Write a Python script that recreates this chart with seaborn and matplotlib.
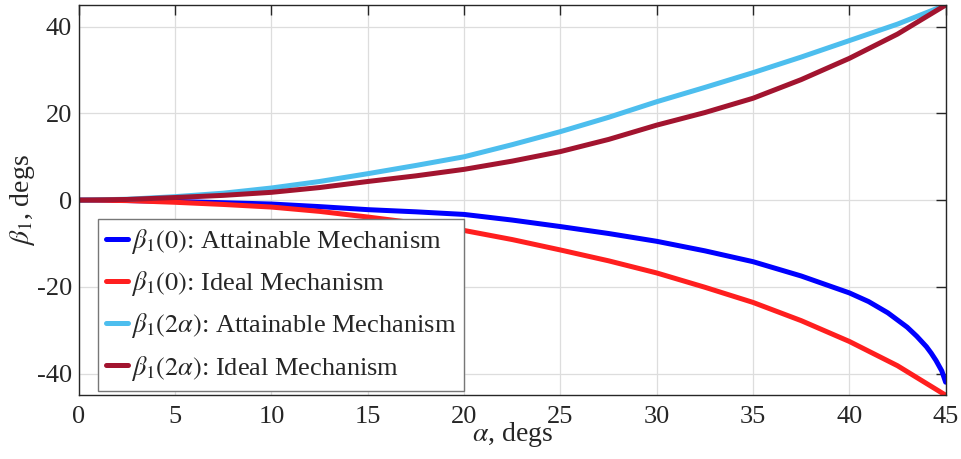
import numpy as np
import pandas as pd
import matplotlib
matplotlib.use("Agg")
import matplotlib.pyplot as plt
import seaborn as sns

# values (alpha in degs, beta_1 in degs)
alpha = [0, 2.5, 5, 7.5, 10, 12.5, 15, 17.5, 20, 22.5, 25, 27.5, 30, 32.5, 35, 37.5, 40, 42.5, 45]
ideal_0 = [0, -0.1, -0.5, -1.0, -1.6, -2.6, -3.9, -5.3, -7.0, -9.1, -11.5, -14.0, -16.8, -20.1, -23.6, -27.8, -32.6, -38.2, -45]
attain_2a = [0, 0.2, 0.8, 1.6, 2.8, 4.3, 6.1, 8.0, 10.0, 12.8, 15.8, 19.1, 22.7, 26.0, 29.4, 33.0, 36.8, 40.6, 45]
ideal_2a = [0, 0.15, 0.6, 1.1, 1.8, 2.9, 4.3, 5.6, 7.1, 9.0, 11.2, 14.0, 17.3, 20.2, 23.5, 27.8, 32.7, 38.3, 45]

# the attainable beta_1(0) curve bends sharply near 45, so it has more points there
alpha_b = [0, 2.5, 5, 7.5, 10, 12.5, 15, 17.5, 20, 22.5, 25, 27.5, 30, 32.5, 35, 37.5, 40, 41, 42, 43,
           43.5, 44, 44.25, 44.5, 44.8, 45]
attain_0 = [0, -0.1, -0.3, -0.6, -0.9, -1.5, -2.2, -2.7, -3.3, -4.6, -6.1, -7.7, -9.5, -11.7, -14.2, -17.5,
            -21.4, -23.4, -26.0, -29.3, -31.4, -33.8, -35.3, -37.0, -39.4, -42.0]

labels = [r"$\beta_1(0)$: Attainable Mechanism",
          r"$\beta_1(0)$: Ideal Mechanism",
          r"$\beta_1(2\alpha)$: Attainable Mechanism",
          r"$\beta_1(2\alpha)$: Ideal Mechanism"]
colors = ["#0000ff", "#ff1f1f", "#4dbeee", "#a2142f"]

sns.set_style("whitegrid")
plt.rcParams["font.family"] = ["Liberation Serif", "DejaVu Serif"]
plt.rcParams["mathtext.fontset"] = "stix"
plt.rcParams["axes.unicode_minus"] = False

fig, ax = plt.subplots(figsize=(9.62, 4.59), dpi=100)
fig.subplots_adjust(left=0.082, right=0.983, top=0.989, bottom=0.139)

series = [(alpha_b, attain_0), (alpha, ideal_0), (alpha, attain_2a), (alpha, ideal_2a)]
for (xs, ys), lab, col in zip(series, labels, colors):
    sns.lineplot(x=xs, y=ys, ax=ax, color=col, linewidth=3.6, label=lab)

ax.set_xlim(0, 45)
ax.set_ylim(-45, 45)
ax.set_xticks(np.arange(0, 46, 5))
ax.set_yticks([-40, -20, 0, 20, 40])
ax.grid(True, color="#dddddd", linewidth=0.9)
ax.tick_params(direction="in", length=7, width=1, top=True, right=True,
               labelsize=19, colors="#262626")
ax.tick_params(axis="x", pad=8)
ax.tick_params(axis="y", pad=5)
for sp in ax.spines.values():
    sp.set_color("#262626")
    sp.set_linewidth(1.0)

ax.set_xlabel(r"$\alpha$, degs", fontsize=20, labelpad=-6)
ax.set_ylabel(r"$\beta_1$, degs", fontsize=20, labelpad=0)

leg = ax.legend(loc="lower left", bbox_to_anchor=(0.022, 0.012), fontsize=19,
                handlelength=0.85, handletextpad=0.1, borderpad=0.3,
                labelspacing=0.5, borderaxespad=0, fancybox=False, framealpha=1)
leg.get_frame().set_edgecolor("#777777")
leg.get_frame().set_linewidth(1.0)

fig.savefig("out.png", dpi=100)
